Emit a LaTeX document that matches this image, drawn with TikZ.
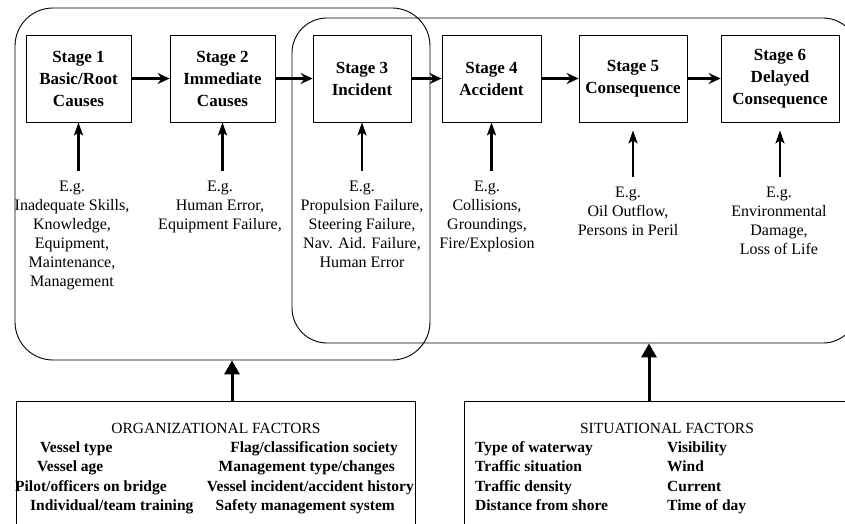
\documentclass[tikz,border=0pt]{standalone}
\usepackage{fontspec}
\setmainfont{Liberation Serif}
\usetikzlibrary{arrows.meta}

\begin{document}
\begin{tikzpicture}[
        x=1pt, y=-1pt,
        stage/.style={draw, line width=0.8pt, minimum height=87pt, align=center, inner sep=0pt,
            font=\fontsize{17}{22}\selectfont\bfseries},
        example/.style={anchor=north, align=center, inner sep=0pt, font=\fontsize{16}{19}\selectfont},
        group/.style={draw, line width=0.9pt, inner sep=0pt},
        factorbox/.style={draw, line width=0.8pt, inner sep=0pt, minimum height=159pt},
        item/.style={inner sep=0pt, font=\fontsize{15.5}{19}\selectfont\bfseries},
        heading/.style={inner sep=0pt, anchor=base, font=\fontsize{15.5}{19}\selectfont},
        flow/.style={-{Stealth[length=12pt, width=11pt, inset=4pt]}, line width=2.6pt},
        feed/.style={-{Stealth[length=13pt, width=9pt, inset=3pt]}, line width=2.6pt, shorten <=10pt},
        influence/.style={-{Triangle[length=14pt, width=15pt]}, line width=3pt},
    ]
    \useasboundingbox (0,0) rectangle (845,524);
    \clip (0,0) rectangle (845,524);

    % grouping boxes
    \node[group, rounded corners=38pt, minimum width=415pt, minimum height=352pt] (causes) at (222.5,184) {};
    \node[group, rounded corners=35pt, minimum width=566pt, minimum height=325pt] (effects) at (575,180.5) {};

    % stages
    \node[stage, minimum width=105pt] (s1) at (78.5,78.5) {Stage 1\\Basic/Root\\Causes};
    \node[stage, minimum width=105pt] (s2) at (222.5,78.5) {Stage 2\\Immediate\\Causes};
    \node[stage, minimum width=98pt] (s3) at (362,78.5) {Stage 3\\Incident};
    \node[stage, minimum width=99pt] (s4) at (491.5,78.5) {Stage 4\\Accident};
    \node[stage, minimum width=108pt] (s5) at (633,78.5) {Stage 5\\Consequence};
    \node[stage, minimum width=118pt] (s6) at (780,78.5) {Stage 6\\Delayed\\Consequence};

    \draw[flow] (s1) -- (s2);
    \draw[flow] (s2) -- (s3);
    \draw[flow] (s3) -- (s4);
    \draw[flow] (s4) -- (s5);
    \draw[flow] (s5) -- (s6);

    % examples
    \node[example] (eg1) at (72,181) {E.g.\\Inadequate Skills,\\Knowledge,\\Equipment,\\Maintenance,\\Management};
    \node[example] (eg2) at (220,181) {E.g.\\Human Error,\\Equipment Failure,};
    \node[example] (eg3) at (362,181) {E.g.\\Propulsion Failure,\\Steering Failure,\\Nav. Aid. Failure,\\Human Error};
    \node[example] (eg4) at (487,181) {E.g.\\Collisions,\\Groundings,\\Fire/Explosion};
    \node[example] (eg5) at (628,187) {E.g.\\Oil Outflow,\\Persons in Peril};
    \node[example] (eg6) at (779,187) {E.g.\\Environmental\\Damage,\\Loss of Life};

    \draw[feed] (s1.south |- eg1.north) -- (s1.south);
    \draw[feed] (s2.south |- eg2.north) -- (s2.south);
    \draw[feed] (s3.south |- eg3.north) -- (s3.south);
    \draw[feed] (s4.south |- eg4.north) -- (s4.south);
    \draw[feed, shorten >=8pt] (s5.south |- eg5.north) -- (s5.south);
    \draw[feed, shorten >=8pt] (s6.south |- eg6.north) -- (s6.south);

    % factors
    \node[factorbox, minimum width=399pt] (org) at (215.5,480.5) {};
    \node[factorbox, minimum width=406pt] (sit) at (667,480.5) {};

    \draw[influence] ([xshift=16.5pt]org.north) -- ([xshift=16.5pt]org.north |- causes.south);
    \draw[influence] ([xshift=-18pt]sit.north) -- ([xshift=-18pt]sit.north |- effects.south);

    \node[heading] (orgtitle) at (216,433) {ORGANIZATIONAL FACTORS};
    \node[item, anchor=base west] (o1) at (40,452) {Vessel type};
    \node[item, anchor=base west] (o2) at (37,471) {Vessel age};
    \node[item, anchor=base west] (o3) at (15,491) {Pilot/officers on bridge};
    \node[item, anchor=base west] (o4) at (30,510) {Individual/team training};
    \node[item, anchor=base east] (o5) at (398,452) {Flag/classification society};
    \node[item, anchor=base east] (o6) at (395,471) {Management type/changes};
    \node[item, anchor=base east] (o7) at (414,491) {Vessel incident/accident history};
    \node[item, anchor=base east] (o8) at (395,510) {Safety management system};

    \node[heading] (sittitle) at (667,433) {SITUATIONAL FACTORS};
    \node[item, anchor=base west] (t1) at (475,452) {Type of waterway};
    \node[item, anchor=base west] (t2) at (475,471) {Traffic situation};
    \node[item, anchor=base west] (t3) at (475,491) {Traffic density};
    \node[item, anchor=base west] (t4) at (475,510) {Distance from shore};
    \node[item, anchor=base west] (t5) at (667,452) {Visibility};
    \node[item, anchor=base west] (t6) at (667,471) {Wind};
    \node[item, anchor=base west] (t7) at (667,491) {Current};
    \node[item, anchor=base west] (t8) at (667,510) {Time of day};
\end{tikzpicture}
\end{document}
